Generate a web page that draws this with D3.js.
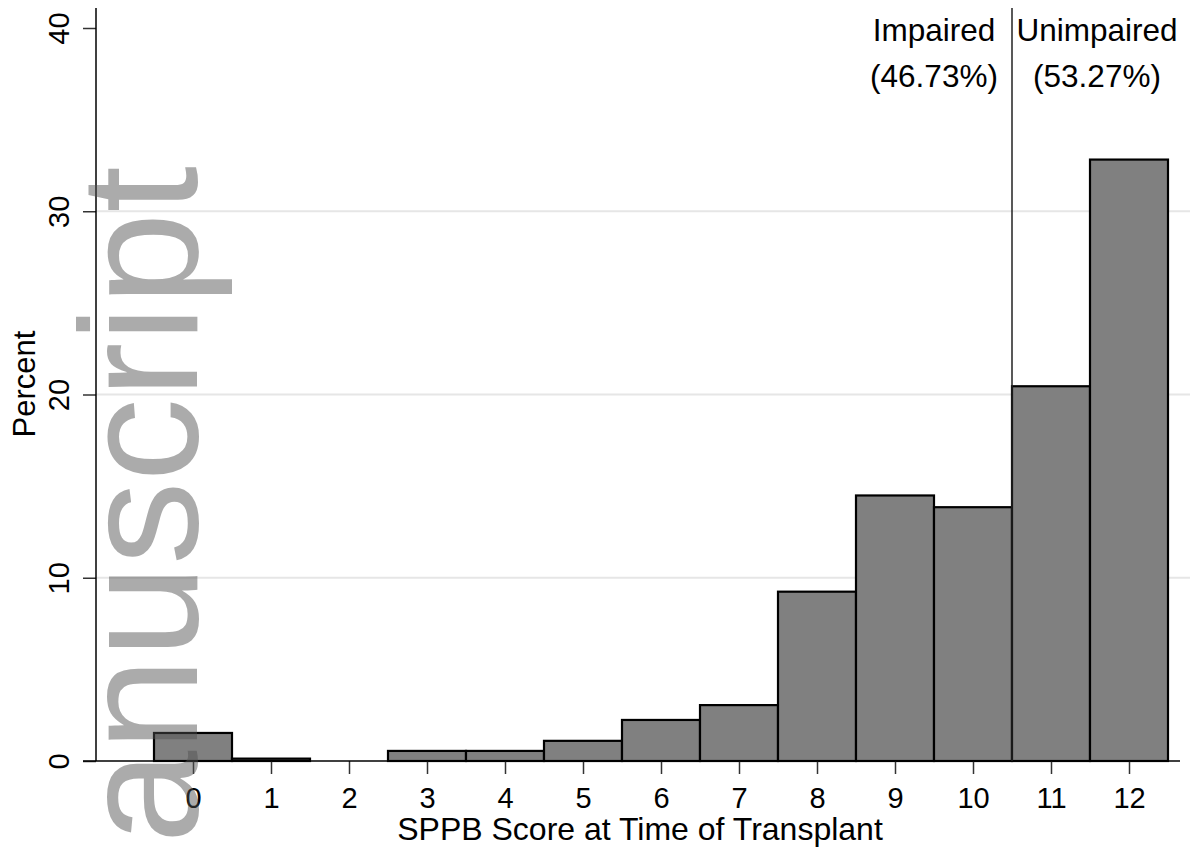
<!DOCTYPE html>
<html>
<head>
<meta charset="utf-8">
<script src="https://cdn.jsdelivr.net/npm/d3@7"></script>
<style>
  body { margin: 0; background: #fff; }
  svg { display: block; font-family: Arial, "Liberation Sans", sans-serif; }
</style>
</head>
<body>
<div id="chart"></div>
<script>
// SPPB score histogram (percent of patients per score)
var scores = [0, 1, 2, 3, 4, 5, 6, 7, 8, 9, 10, 11, 12];
var percents = [1.53, 0.13, 0, 0.55, 0.55, 1.10, 2.24, 3.05, 9.24, 14.49, 13.85, 20.45, 32.82];
var yTicks = [0, 10, 20, 30, 40];
var gridTicks = [10, 20, 30];
var cutoff = 10.5;
var groupLabels = ["Impaired", "Unimpaired"];
var groupShares = ["(46.73%)", "(53.27%)"];

var width = 1191, height = 854;
var plot = { left: 96, right: 1180, top: 8, bottom: 761 };

var svg = d3.select('#chart')
    .append('svg')
        .attr('width', width)
        .attr('height', height);

svg.append("rect").attr("width", width).attr("height", height).attr("fill", "#fff");

var x = d3.scaleLinear().domain([-0.5, 12.5]).range([154, 1168]);
var y = d3.scaleLinear().domain([0, 40]).range([761, 28]);

// grid
svg.append("g").selectAll("line")
    .data(gridTicks)
    .enter().append("line")
    .attr("x1", plot.left).attr("x2", 1190)
    .attr("y1", function(d) { return y(d); })
    .attr("y2", function(d) { return y(d); })
    .attr("stroke", "#e6e6e6")
    .attr("stroke-width", 2);

// bars
svg.append("g").selectAll("rect")
    .data(scores)
    .enter().append("rect")
    .attr("x", function(d) { return x(d - 0.5); })
    .attr("y", function(d, i) { return y(percents[i]); })
    .attr("width", x(1) - x(0))
    .attr("height", function(d, i) { return y(0) - y(percents[i]); })
    .attr("fill", "#808080")
    .attr("stroke", "#000")
    .attr("stroke-width", 2.2);

// y axis
var yAxis = d3.axisLeft(y).tickValues(yTicks).tickSize(13).tickFormat(d3.format("d"));
var gy = svg.append("g")
    .attr("transform", "translate(" + plot.left + ",0)")
    .call(yAxis);
gy.select(".domain").remove();
gy.append("line")
    .attr("x1", 0).attr("x2", 0)
    .attr("y1", plot.top).attr("y2", plot.bottom)
    .attr("stroke", "#000").attr("stroke-width", 1.5);
gy.selectAll(".tick line").attr("stroke", "#333").attr("stroke-width", 1.5);
gy.selectAll(".tick text")
    .attr("x", null).attr("dy", null)
    .attr("transform", "translate(-27,0) rotate(-90)")
    .attr("text-anchor", "middle")
    .attr("font-size", 29)
    .attr("font-family", "Arial, 'Liberation Sans', sans-serif")
    .attr("fill", "#000");

// x axis
var xAxis = d3.axisBottom(x).tickValues(scores).tickSize(13).tickFormat(d3.format("d"));
var gx = svg.append("g")
    .attr("transform", "translate(0," + plot.bottom + ")")
    .call(xAxis);
gx.select(".domain").remove();
gx.append("line")
    .attr("x1", 83).attr("x2", plot.right)
    .attr("y1", 0).attr("y2", 0)
    .attr("stroke", "#000").attr("stroke-width", 1.5);
gx.selectAll(".tick line").attr("stroke", "#333").attr("stroke-width", 1.5);
gx.selectAll(".tick text")
    .attr("y", 47).attr("dy", null)
    .attr("font-size", 29)
    .attr("font-family", "Arial, 'Liberation Sans', sans-serif")
    .attr("fill", "#000");

// cutoff line between impaired and unimpaired
svg.append("line")
    .attr("x1", x(cutoff)).attr("x2", x(cutoff))
    .attr("y1", plot.top).attr("y2", plot.bottom)
    .attr("stroke", "#222").attr("stroke-width", 1.5);

var groupX = [x(cutoff) - 78, x(cutoff) + 85];
svg.append("g").selectAll("text")
    .data(groupLabels)
    .enter().append("text")
    .attr("x", function(d, i) { return groupX[i]; })
    .attr("y", 41)
    .attr("text-anchor", "middle")
    .attr("font-size", 31.5)
    .text(function(d) { return d; });
svg.append("g").selectAll("text")
    .data(groupShares)
    .enter().append("text")
    .attr("x", function(d, i) { return groupX[i]; })
    .attr("y", 87)
    .attr("text-anchor", "middle")
    .attr("font-size", 31.5)
    .text(function(d) { return d; });

// axis titles
svg.append("text")
    .attr("x", 640).attr("y", 840)
    .attr("text-anchor", "middle")
    .attr("font-size", 32)
    .text("SPPB Score at Time of Transplant");
svg.append("text")
    .attr("transform", "translate(35,384) rotate(-90)")
    .attr("text-anchor", "middle")
    .attr("font-size", 31)
    .text("Percent");

// watermark, drawn on top
svg.append("text")
    .attr("transform", "translate(197,166) rotate(-90)")
    .attr("text-anchor", "end")
    .attr("font-size", 167)
    .attr("fill", "#505050")
    .attr("fill-opacity", 0.48)
    .text("Manuscript");
</script>
</body>
</html>
